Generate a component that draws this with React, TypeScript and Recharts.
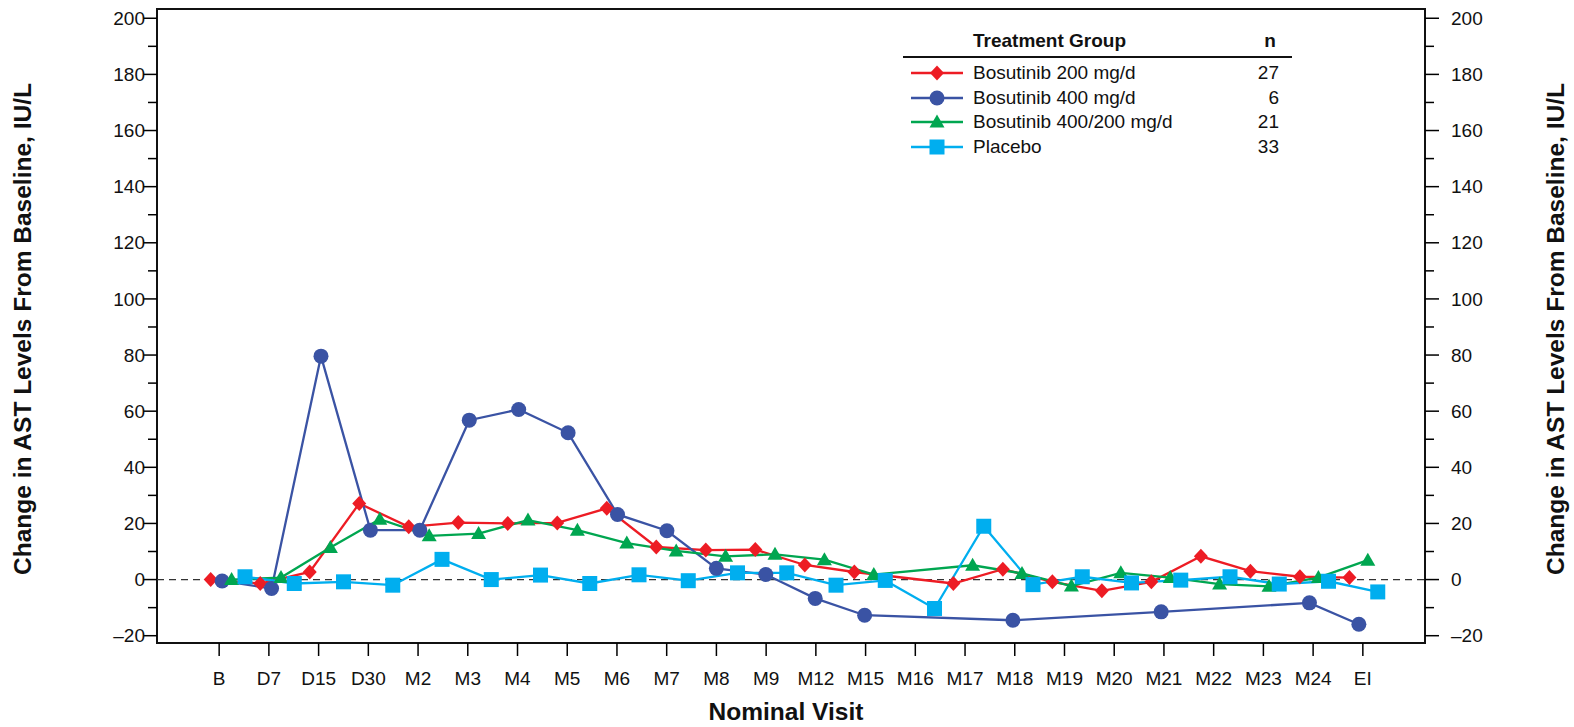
import React from 'react';
import { LineChart, Line, XAxis, YAxis, ReferenceLine, ReferenceArea } from 'recharts';

// visits on the x axis
const VISITS = ['B', 'D7', 'D15', 'D30', 'M2', 'M3', 'M4', 'M5', 'M6', 'M7', 'M8', 'M9', 'M12', 'M15', 'M16', 'M17', 'M18', 'M19', 'M20', 'M21', 'M22', 'M23', 'M24', 'EI'];

// change in AST from baseline (IU/L), null = no value at that visit
const BOSU_200 = [0, -1.4, 2.7, 27.1, 18.8, 20.3, 20.0, 20.2, 25.4, 11.6, 10.5, 10.7, 5.2, 2.7, null, -1.4, 3.7, -0.8, -4.0, -0.8, 8.3, 3.0, 1.0, 0.7];
const BOSU_400 = [-0.5, -3.2, 79.6, 17.6, 17.6, 56.8, 60.6, 52.3, 23.2, 17.4, 4.0, 1.8, -6.7, -12.7, null, null, -14.5, null, null, -11.5, null, null, -8.3, -15.9];
const BOSU_400_200 = [0, 0.7, 11.4, 21.5, 15.6, 16.4, 21.2, 17.6, 13.0, 10.2, 8.3, 9.0, 7.1, 1.8, null, 5.1, 2.2, -2.3, 2.4, 0.7, -1.6, -2.4, 0.7, 6.9];
const PLACEBO = [1.0, -1.4, -0.8, -2.0, 7.2, 0, 1.6, -1.4, 1.7, -0.4, 2.4, 2.4, -2.0, -0.3, -10.3, 19.0, -1.8, 1.0, -1.2, -0.2, 1.0, -1.6, -0.6, -4.4];

const GROUP_N = [27, 6, 21, 33];
const Y_TICKS = [-20, -10, 0, 10, 20, 30, 40, 50, 60, 70, 80, 90, 100, 110, 120, 130, 140, 150, 160, 170, 180, 190, 200];

const FONT = '"Liberation Sans", Arial, Helvetica, sans-serif';
const Y_TITLE = 'Change in AST Levels From Baseline, IU/L';

// dodge of each group around the visit tick (start, end) in category units
const offsetAt = (i: number, shift: number[]) => shift[0] + ((shift[1] - shift[0]) * i) / (VISITS.length - 1);

const toPoints = (values: (number | null)[], shift: number[]) =>
  values.flatMap((v, i) => (v === null ? [] : [{ x: i + offsetAt(i, shift), y: v }]));

type Shape = 'diamond' | 'circle' | 'triangle' | 'square';

function Marker({ cx, cy, shape, color }: { cx: number; cy: number; shape: Shape; color: string }) {
  if (shape === 'diamond')
    return <polygon points={`${cx},${cy - 7.5} ${cx + 7},${cy} ${cx},${cy + 7.5} ${cx - 7},${cy}`} fill={color} />;
  if (shape === 'circle') return <circle cx={cx} cy={cy} r={7.5} fill={color} />;
  if (shape === 'triangle')
    return <polygon points={`${cx},${cy - 7.5} ${cx + 7.5},${cy + 5.5} ${cx - 7.5},${cy + 5.5}`} fill={color} />;
  return <rect x={cx - 7.5} y={cy - 7.5} width={15} height={15} fill={color} />;
}

const SERIES = [
  { name: 'Bosutinib 200 mg/d', color: '#ED1C24', shape: 'diamond' as Shape, values: BOSU_200, shift: [-0.17, -0.27] },
  { name: 'Bosutinib 400 mg/d', color: '#3A53A4', shape: 'circle' as Shape, values: BOSU_400, shift: [0.06, -0.08] },
  { name: 'Bosutinib 400/200 mg/d', color: '#00A650', shape: 'triangle' as Shape, values: BOSU_400_200, shift: [0.25, 0.1] },
  { name: 'Placebo', color: '#00AEEF', shape: 'square' as Shape, values: PLACEBO, shift: [0.52, 0.3] },
];

const fmtY = (v: number) => (v < 0 ? `\u2013${Math.abs(v)}` : `${v}`);

function YTick(props: any) {
  const { x, y, payload, side } = props;
  const v = payload.value;
  const major = v % 20 === 0;
  const dir = side === 'left' ? -1 : 1;
  const len = major ? 14 : 9;
  return (
    <g>
      <line x1={x} x2={x + dir * len} y1={y} y2={y} stroke="#000" strokeWidth={1.5} />
      {major && (
        <text
          x={x + dir * (side === 'left' ? 12 : 26)}
          y={y}
          dy="0.35em"
          textAnchor={side === 'left' ? 'end' : 'start'}
          fontSize={19}
          fontFamily={FONT}
          fill="#111"
        >
          {fmtY(v)}
        </text>
      )}
    </g>
  );
}

function XTick(props: any) {
  const { x, y, payload } = props;
  return (
    <g>
      <line x1={x} x2={x} y1={y} y2={y + 13} stroke="#000" strokeWidth={1.5} />
      <text x={x} y={y + 35} dy="0.35em" textAnchor="middle" fontSize={19} fontFamily={FONT} fill="#111">
        {VISITS[payload.value]}
      </text>
    </g>
  );
}

const titleStyle: React.CSSProperties = {
  position: 'absolute', width: 600, height: 30, lineHeight: '30px', textAlign: 'center',
  fontWeight: 'bold', fontSize: 24.5, color: '#111', transform: 'rotate(-90deg)', whiteSpace: 'nowrap',
};

export default function App() {
  const yDomain = [-22.6, 203.3];
  const xDomain = [-1.25, 24.25];

  return (
    <div style={{ position: 'absolute', left: 0, top: 0, width: 1574, height: 727, background: '#fff', fontFamily: FONT }}>
      <LineChart width={1574} height={727} margin={{ top: 9, right: 0, bottom: 0, left: 0 }}>
        <XAxis
          type="number"
          dataKey="x"
          domain={xDomain}
          allowDataOverflow
          ticks={VISITS.map((_, i) => i)}
          interval={0}
          tick={<XTick />}
          tickSize={0}
          tickMargin={0}
          axisLine={false}
          height={84}
        />
        <YAxis
          yAxisId="left"
          orientation="left"
          type="number"
          domain={yDomain}
          allowDataOverflow
          ticks={Y_TICKS}
          interval={0}
          width={157}
          tick={(p: any) => <YTick {...p} side="left" />}
          tickSize={0}
          tickMargin={0}
          axisLine={false}
        />
        <YAxis
          yAxisId="right"
          orientation="right"
          type="number"
          domain={yDomain}
          allowDataOverflow
          ticks={Y_TICKS}
          interval={0}
          width={149}
          tick={(p: any) => <YTick {...p} side="right" />}
          tickSize={0}
          tickMargin={0}
          axisLine={false}
        />
        <ReferenceArea
          yAxisId="left"
          x1={xDomain[0]}
          x2={xDomain[1]}
          y1={yDomain[0]}
          y2={yDomain[1]}
          fill="none"
          stroke="#111"
          strokeWidth={2}
          ifOverflow="visible"
        />
        <ReferenceLine yAxisId="left" y={0} stroke="#333" strokeWidth={1.2} strokeDasharray="7 5" />
        {SERIES.map((s) => (
          <Line
            key={s.name}
            yAxisId="left"
            data={toPoints(s.values, s.shift)}
            dataKey="y"
            type="linear"
            stroke={s.color}
            strokeWidth={2.3}
            dot={(p: any) => <Marker key={`${s.name}-${p.index}`} cx={p.cx} cy={p.cy} shape={s.shape} color={s.color} />}
            activeDot={false}
            isAnimationActive={false}
          />
        ))}
      </LineChart>

      {/* axis titles */}
      <div style={{ ...titleStyle, left: 23 - 300, top: 329 - 15 }}>{Y_TITLE}</div>
      <div style={{ ...titleStyle, left: 1556 - 300, top: 329 - 15 }}>{Y_TITLE}</div>
      <div
        style={{
          position: 'absolute', left: 786 - 200, top: 712 - 15, width: 400, height: 30, lineHeight: '30px',
          textAlign: 'center', fontWeight: 'bold', fontSize: 24.5, color: '#111',
        }}
      >
        Nominal Visit
      </div>

      {/* legend */}
      <div style={{ position: 'absolute', left: 973, top: 41 - 12, height: 24, lineHeight: '24px', fontWeight: 'bold', fontSize: 19, color: '#111' }}>
        Treatment Group
      </div>
      <div style={{ position: 'absolute', left: 1250, width: 40, top: 41 - 12, height: 24, lineHeight: '24px', textAlign: 'center', fontWeight: 'bold', fontSize: 19, color: '#111' }}>
        n
      </div>
      <div style={{ position: 'absolute', left: 903, top: 56, width: 389, height: 2, background: '#111' }} />
      {SERIES.map((s, i) => {
        const cy = 73.3 + i * 24.4;
        return (
          <React.Fragment key={s.name}>
            <svg style={{ position: 'absolute', left: 908, top: cy - 10 }} width={58} height={20}>
              <line x1={3} x2={55} y1={10} y2={10} stroke={s.color} strokeWidth={2.3} />
              <Marker cx={29} cy={10} shape={s.shape} color={s.color} />
            </svg>
            <div style={{ position: 'absolute', left: 973, top: cy - 12, height: 24, lineHeight: '24px', fontSize: 19, color: '#111', whiteSpace: 'nowrap' }}>
              {s.name}
            </div>
            <div style={{ position: 'absolute', left: 1200, width: 79, top: cy - 12, height: 24, lineHeight: '24px', fontSize: 19, color: '#111', textAlign: 'right' }}>
              {GROUP_N[i]}
            </div>
          </React.Fragment>
        );
      })}
    </div>
  );
}
